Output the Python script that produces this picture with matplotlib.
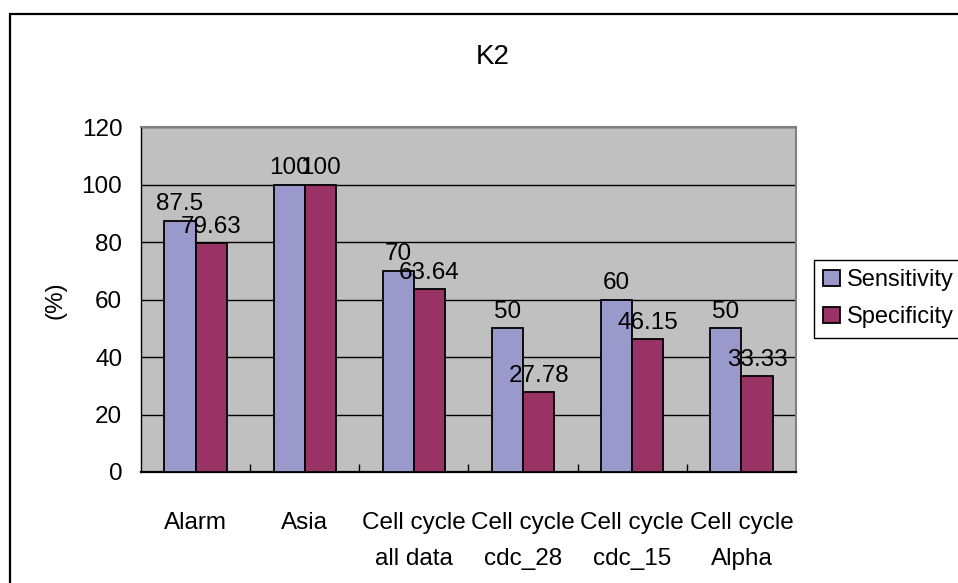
import matplotlib as mpl
mpl.use('Agg')
import matplotlib.pyplot as plt
import matplotlib.patches as patches
import numpy as np

plt.rcParams['font.family'] = ['Liberation Sans', 'DejaVu Sans']

# data
categories = ['Alarm', 'Asia', 'Cell cycle\nall data', 'Cell cycle\ncdc_28',
              'Cell cycle\ncdc_15', 'Cell cycle\nAlpha']
sensitivity = [87.5, 100, 70, 50, 60, 50]
specificity = [79.63, 100, 63.64, 27.78, 46.15, 33.33]
sens_labels = ['87.5', '100', '70', '50', '60', '50']
spec_labels = ['79.63', '100', '63.64', '27.78', '46.15', '33.33']

W, H = 958, 583
fs = 17.5
fig = plt.figure(figsize=(W / 100, H / 100), dpi=100)
fig.patch.set_facecolor('white')

# outer chart border (cut off at right and bottom like the source)
fig.patches.append(patches.Rectangle((10 / W, -0.1), 1.2, 1 - 14 / H + 0.1,
                                     transform=fig.transFigure, fill=False,
                                     edgecolor='black', linewidth=1.6))

ax = fig.add_axes([141 / W, 1 - 472 / H, 655 / W, (472 - 127.3) / H])
ax.set_facecolor('#C0C0C0')

x = np.arange(len(categories))
bw = 0.285
b1 = ax.bar(x - bw / 2, sensitivity, bw, color='#9999CC', edgecolor='black',
            linewidth=1.3, zorder=3, label='Sensitivity')
b2 = ax.bar(x + bw / 2, specificity, bw, color='#993366', edgecolor='black',
            linewidth=1.3, zorder=3, label='Specificity')

for rect, lab in zip(b1, sens_labels):
    ax.annotate(lab, (rect.get_x() + rect.get_width() / 2, rect.get_height()),
                xytext=(0, 4), textcoords='offset points', ha='center',
                va='bottom', fontsize=fs, zorder=5)
for rect, lab in zip(b2, spec_labels):
    ax.annotate(lab, (rect.get_x() + rect.get_width() / 2, rect.get_height()),
                xytext=(0, 4), textcoords='offset points', ha='center',
                va='bottom', fontsize=fs, zorder=5)

ax.set_xlim(-0.5, len(categories) - 0.5)
ax.set_ylim(0, 120)
ax.set_yticks(np.arange(0, 121, 20))
ax.yaxis.grid(True, color='black', linewidth=1)
ax.set_axisbelow(True)

ax.set_xticks(x)
ax.set_xticklabels(categories, fontsize=fs, linespacing=1.8)
ax.set_xticks(np.arange(0.5, len(categories) - 0.5, 1), minor=True)
ax.tick_params(axis='x', which='major', length=0, pad=29)
ax.tick_params(axis='x', which='minor', direction='in', length=6, width=1,
               color='black')
ax.tick_params(axis='y', length=0, pad=13.5, labelsize=fs)

for s in ['top', 'right']:
    ax.spines[s].set_color('#808080')
    ax.spines[s].set_linewidth(1.5)
ax.spines['left'].set_color('black')
ax.spines['left'].set_linewidth(1)
ax.spines['bottom'].set_color('black')
ax.spines['bottom'].set_linewidth(1.6)

fig.text(492.5 / W, 1 - 57.5 / H, 'K2', ha='center', va='center', fontsize=20)
fig.text(56 / W, 1 - 300 / H, '(%)', ha='center', va='center', rotation=90,
         fontsize=fs)

leg = fig.legend(handles=[b1, b2], loc='upper left',
                 bbox_to_anchor=(814 / W, 1 - 260 / H), fontsize=17,
                 frameon=True, fancybox=False, shadow=False, borderpad=0.4,
                 handlelength=0.7, handleheight=0.65, handletextpad=0.3,
                 labelspacing=0.62, borderaxespad=0)
leg.get_frame().set_edgecolor('black')
leg.get_frame().set_linewidth(1)
leg.get_frame().set_facecolor('white')
leg.get_frame().set_alpha(1)

plt.savefig('out.png', dpi=100)
